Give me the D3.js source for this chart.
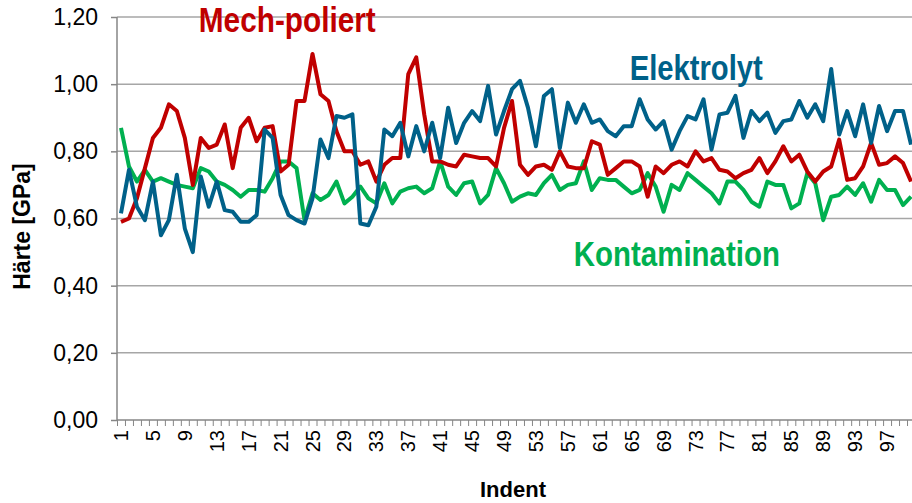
<!DOCTYPE html>
<html>
<head>
<meta charset="utf-8">
<script src="https://cdn.jsdelivr.net/npm/d3@7"></script>
<style>
  body { margin: 0; background: #fff; }
  svg { display: block; font-family: "Liberation Sans", Arial, sans-serif; }
  .domain { display: none; }
</style>
</head>
<body>
<div id="chart"></div>
<script>
// values (Härte in GPa per indent)
const indents = d3.range(1, 101);
const yTicks = [0, 0.2, 0.4, 0.6, 0.8, 1.0, 1.2];

const mechPoliert = [
  0.59, 0.60, 0.66, 0.75, 0.84, 0.87, 0.94, 0.92, 0.84, 0.70,
  0.84, 0.81, 0.82, 0.88, 0.75, 0.87, 0.90, 0.83, 0.87, 0.875,
  0.74, 0.76, 0.95, 0.95, 1.09, 0.97, 0.95, 0.86, 0.80, 0.80,
  0.76, 0.77, 0.71, 0.76, 0.78, 0.78, 1.03, 1.08, 0.91, 0.77,
  0.77, 0.76, 0.755, 0.79, 0.785, 0.78, 0.78, 0.755, 0.87, 0.95,
  0.76, 0.73, 0.755, 0.76, 0.745, 0.80, 0.755, 0.75, 0.75, 0.83,
  0.82, 0.73, 0.75, 0.77, 0.77, 0.755, 0.665, 0.755, 0.735, 0.76,
  0.77, 0.755, 0.80, 0.77, 0.78, 0.745, 0.74, 0.72, 0.735, 0.745,
  0.78, 0.735, 0.77, 0.815, 0.77, 0.79, 0.74, 0.71, 0.74, 0.755,
  0.835, 0.715, 0.72, 0.755, 0.825, 0.76, 0.765, 0.785, 0.765, 0.71
];

const elektrolyt = [
  0.615, 0.745, 0.635, 0.595, 0.71, 0.55, 0.595, 0.73, 0.57, 0.50,
  0.725, 0.635, 0.71, 0.625, 0.62, 0.59, 0.59, 0.61, 0.865, 0.84,
  0.67, 0.61, 0.595, 0.585, 0.66, 0.835, 0.78, 0.905, 0.90, 0.91,
  0.585, 0.58, 0.635, 0.865, 0.845, 0.885, 0.785, 0.875, 0.80, 0.885,
  0.78, 0.93, 0.825, 0.885, 0.92, 0.89, 0.995, 0.85, 0.92, 0.985,
  1.01, 0.93, 0.815, 0.965, 0.985, 0.81, 0.945, 0.885, 0.94, 0.885,
  0.895, 0.86, 0.845, 0.875, 0.875, 0.955, 0.895, 0.865, 0.89, 0.805,
  0.86, 0.905, 0.895, 0.955, 0.805, 0.91, 0.915, 0.965, 0.84, 0.92,
  0.89, 0.915, 0.855, 0.89, 0.895, 0.95, 0.90, 0.94, 0.89, 1.045,
  0.85, 0.92, 0.845, 0.94, 0.825, 0.935, 0.86, 0.92, 0.92, 0.82
];

const kontamination = [
  0.87, 0.755, 0.71, 0.745, 0.71, 0.72, 0.71, 0.70, 0.695, 0.69,
  0.75, 0.74, 0.71, 0.70, 0.685, 0.665, 0.685, 0.685, 0.68, 0.72,
  0.77, 0.77, 0.75, 0.595, 0.675, 0.655, 0.67, 0.71, 0.645, 0.665,
  0.695, 0.66, 0.645, 0.705, 0.645, 0.68, 0.69, 0.695, 0.675, 0.69,
  0.77, 0.695, 0.67, 0.705, 0.71, 0.645, 0.67, 0.75, 0.705, 0.65,
  0.665, 0.675, 0.67, 0.705, 0.73, 0.685, 0.70, 0.705, 0.77, 0.685,
  0.72, 0.715, 0.715, 0.695, 0.675, 0.685, 0.735, 0.695, 0.62, 0.70,
  0.685, 0.735, 0.715, 0.695, 0.675, 0.645, 0.71, 0.71, 0.685, 0.65,
  0.635, 0.71, 0.70, 0.70, 0.63, 0.645, 0.735, 0.705, 0.595, 0.665,
  0.67, 0.695, 0.67, 0.705, 0.65, 0.715, 0.685, 0.685, 0.64, 0.665
];

const seriesNames = ["Mech-poliert", "Elektrolyt", "Kontamination"];
const seriesColors = ["#C00000", "#006189", "#00B050"];
const seriesValues = [mechPoliert, elektrolyt, kontamination];

const width = 912, height = 503;
const MARGIN = { top: 17, left: 117, bottom: 83 };
const catW = 7.98;
const plotBottom = height - MARGIN.bottom;
const plotRight = MARGIN.left + indents.length * catW;

const svg = d3.select("#chart").append("svg")
  .attr("width", width)
  .attr("height", height);

// SCALES
const x = d3.scaleBand()
  .domain(indents)
  .range([MARGIN.left, plotRight])
  .padding(0);

const xEdge = d3.scaleLinear()
  .domain([0, indents.length])
  .range([MARGIN.left, plotRight]);

const y = d3.scaleLinear()
  .domain([0, 1.2])
  .range([plotBottom, MARGIN.top]);

// GRID
svg.append("g")
  .selectAll("line")
  .data(yTicks.slice(1))
  .join("line")
  .attr("x1", MARGIN.left)
  .attr("x2", width)
  .attr("y1", d => y(d))
  .attr("y2", d => y(d))
  .attr("stroke", "#A6A6A6")
  .attr("stroke-width", 1.5);

// Y AXIS
const yAxis = svg.append("g")
  .attr("transform", `translate(${MARGIN.left},0)`)
  .call(d3.axisLeft(y).tickValues(yTicks).tickSize(6).tickPadding(13)
    .tickFormat(d => d3.format(".2f")(d).replace(".", ",")));
yAxis.selectAll("line").attr("stroke", "#868686").attr("stroke-width", 1.5);
yAxis.selectAll("text")
  .attr("fill", "#000")
  .style("font-size", "23px");

svg.append("line")
  .attr("x1", MARGIN.left).attr("x2", MARGIN.left)
  .attr("y1", MARGIN.top).attr("y2", plotBottom)
  .attr("stroke", "#868686").attr("stroke-width", 1.5);

// X AXIS: tick marks between categories
const xTickAxis = svg.append("g")
  .attr("transform", `translate(0,${plotBottom})`)
  .call(d3.axisBottom(xEdge).tickValues(d3.range(0, indents.length + 1)).tickSize(6).tickFormat(""));
xTickAxis.selectAll("line").attr("stroke", "#868686").attr("stroke-width", 1);

svg.append("line")
  .attr("x1", MARGIN.left).attr("x2", width)
  .attr("y1", plotBottom).attr("y2", plotBottom)
  .attr("stroke", "#868686").attr("stroke-width", 1.5);

// X labels every 4th indent, rotated
const xLabelAxis = svg.append("g")
  .attr("transform", `translate(0,${plotBottom})`)
  .call(d3.axisBottom(x).tickValues(indents.filter(d => (d - 1) % 4 === 0)).tickSize(0).tickPadding(0));
xLabelAxis.selectAll("text")
  .attr("fill", "#000")
  .style("font-size", "20px")
  .attr("text-anchor", "end")
  .attr("dy", "0.35em")
  .attr("transform", "translate(0,10) rotate(-90)")
  .attr("x", 0)
  .attr("y", 0);

// LINES
const line = d3.line()
  .x((d, i) => x(indents[i]) + x.bandwidth() / 2)
  .y(d => y(d));

svg.append("defs").append("clipPath").attr("id", "clip")
  .append("rect").attr("x", MARGIN.left).attr("y", 0).attr("width", width - MARGIN.left).attr("height", plotBottom);

const lines = svg.append("g").attr("clip-path", "url(#clip)");
// draw order: Kontamination, Mech-poliert, Elektrolyt on top
[2, 0, 1].forEach(k => {
  lines.append("path")
    .datum(seriesValues[k])
    .attr("fill", "none")
    .attr("stroke", seriesColors[k])
    .attr("stroke-width", 4)
    .attr("stroke-linejoin", "round")
    .attr("d", line);
});

// SERIES LABELS (condensed, heavy)
const labelPos = [
  { i: 11, v: 1.155, len: 177 },
  { i: 65, v: 1.013, len: 133 },
  { i: 58, v: 0.458, len: 206 }
];
svg.append("g")
  .selectAll("text")
  .data(seriesNames)
  .join("text")
  .attr("x", (d, k) => x(labelPos[k].i) + 2)
  .attr("y", (d, k) => y(labelPos[k].v))
  .attr("fill", (d, k) => seriesColors[k])
  .attr("textLength", (d, k) => labelPos[k].len)
  .attr("lengthAdjust", "spacingAndGlyphs")
  .style("font-weight", "bold")
  .style("font-size", "35px")
  .text(d => d);

// AXIS TITLES
svg.append("text")
  .attr("transform", `translate(30,${(MARGIN.top + plotBottom) / 2 + 8}) rotate(-90)`)
  .attr("text-anchor", "middle")
  .style("font-weight", "bold")
  .style("font-size", "23px")
  .text("Härte [GPa]");

svg.append("text")
  .attr("x", 513)
  .attr("y", 497)
  .attr("text-anchor", "middle")
  .style("font-weight", "bold")
  .style("font-size", "22px")
  .text("Indent");
</script>
</body>
</html>
